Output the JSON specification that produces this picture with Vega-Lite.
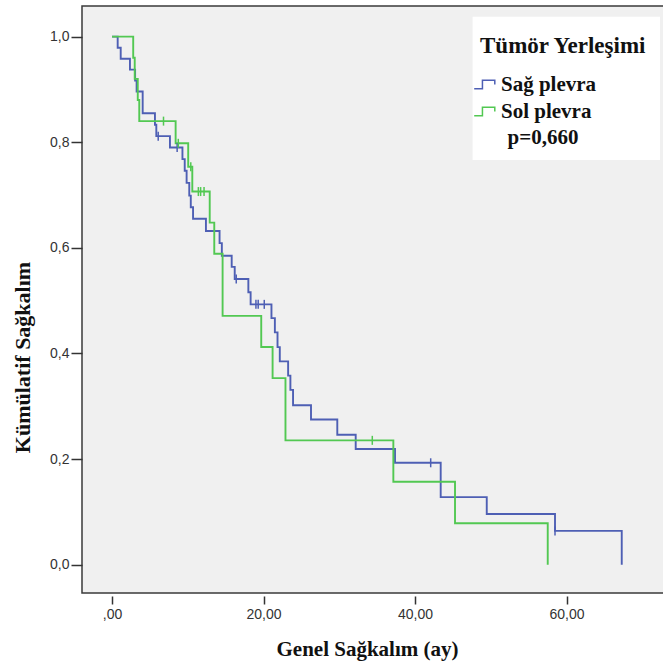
{
  "$schema": "https://vega.github.io/schema/vega-lite/v6.json",
  "width": 583,
  "height": 587,
  "autosize": {"type": "none"},
  "padding": {"left": 82, "top": 6, "right": 0, "bottom": 73},
  "background": "white",
  "config": {"view": {"fill": "#f0f0f0", "stroke": "#3a3a3a", "strokeWidth": 1.5}},
  "datasets": {
    "curves": [
      {"grp": "Sağ plevra", "t": 0, "s": 1.0},
      {"grp": "Sağ plevra", "t": 0.75, "s": 0.979},
      {"grp": "Sağ plevra", "t": 1.15, "s": 0.958},
      {"grp": "Sağ plevra", "t": 2.37, "s": 0.9375},
      {"grp": "Sağ plevra", "t": 3.05, "s": 0.917},
      {"grp": "Sağ plevra", "t": 3.25, "s": 0.896},
      {"grp": "Sağ plevra", "t": 4.05, "s": 0.855},
      {"grp": "Sağ plevra", "t": 5.67, "s": 0.833},
      {"grp": "Sağ plevra", "t": 5.85, "s": 0.8115},
      {"grp": "Sağ plevra", "t": 7.65, "s": 0.79},
      {"grp": "Sağ plevra", "t": 9.3, "s": 0.768},
      {"grp": "Sağ plevra", "t": 9.6, "s": 0.746},
      {"grp": "Sağ plevra", "t": 9.85, "s": 0.723},
      {"grp": "Sağ plevra", "t": 10.2, "s": 0.699},
      {"grp": "Sağ plevra", "t": 10.4, "s": 0.677},
      {"grp": "Sağ plevra", "t": 10.7, "s": 0.655},
      {"grp": "Sağ plevra", "t": 12.4, "s": 0.632},
      {"grp": "Sağ plevra", "t": 14.2, "s": 0.609},
      {"grp": "Sağ plevra", "t": 14.5, "s": 0.585},
      {"grp": "Sağ plevra", "t": 15.8, "s": 0.564},
      {"grp": "Sağ plevra", "t": 16.2, "s": 0.541},
      {"grp": "Sağ plevra", "t": 18.0, "s": 0.516},
      {"grp": "Sağ plevra", "t": 18.3, "s": 0.493},
      {"grp": "Sağ plevra", "t": 21.05, "s": 0.467},
      {"grp": "Sağ plevra", "t": 21.5, "s": 0.44},
      {"grp": "Sağ plevra", "t": 21.85, "s": 0.412},
      {"grp": "Sağ plevra", "t": 22.15, "s": 0.385},
      {"grp": "Sağ plevra", "t": 23.25, "s": 0.358},
      {"grp": "Sağ plevra", "t": 23.55, "s": 0.331},
      {"grp": "Sağ plevra", "t": 23.9, "s": 0.302},
      {"grp": "Sağ plevra", "t": 26.27, "s": 0.275},
      {"grp": "Sağ plevra", "t": 29.74, "s": 0.246},
      {"grp": "Sağ plevra", "t": 32.17, "s": 0.219},
      {"grp": "Sağ plevra", "t": 37.36, "s": 0.193},
      {"grp": "Sağ plevra", "t": 43.39, "s": 0.128},
      {"grp": "Sağ plevra", "t": 49.47, "s": 0.096},
      {"grp": "Sağ plevra", "t": 58.48, "s": 0.064},
      {"grp": "Sağ plevra", "t": 67.29, "s": 0.0},
      {"grp": "Sol plevra", "t": 0, "s": 1.0},
      {"grp": "Sol plevra", "t": 2.8, "s": 0.96},
      {"grp": "Sol plevra", "t": 3.0, "s": 0.92},
      {"grp": "Sol plevra", "t": 3.4, "s": 0.88},
      {"grp": "Sol plevra", "t": 3.6, "s": 0.84},
      {"grp": "Sol plevra", "t": 8.4, "s": 0.798},
      {"grp": "Sol plevra", "t": 10.06, "s": 0.7537},
      {"grp": "Sol plevra", "t": 10.6, "s": 0.7066},
      {"grp": "Sol plevra", "t": 12.9, "s": 0.6477},
      {"grp": "Sol plevra", "t": 13.5, "s": 0.5888},
      {"grp": "Sol plevra", "t": 14.6, "s": 0.4711},
      {"grp": "Sol plevra", "t": 19.7, "s": 0.4122},
      {"grp": "Sol plevra", "t": 21.2, "s": 0.3533},
      {"grp": "Sol plevra", "t": 22.9, "s": 0.2355},
      {"grp": "Sol plevra", "t": 37.14, "s": 0.157},
      {"grp": "Sol plevra", "t": 45.28, "s": 0.0785},
      {"grp": "Sol plevra", "t": 57.52, "s": 0.0}
    ],
    "censored": [
      {"grp": "Sağ plevra", "t": 6.1, "s": 0.8115},
      {"grp": "Sağ plevra", "t": 8.6, "s": 0.79},
      {"grp": "Sağ plevra", "t": 16.4, "s": 0.541},
      {"grp": "Sağ plevra", "t": 19.0, "s": 0.493},
      {"grp": "Sağ plevra", "t": 19.3, "s": 0.493},
      {"grp": "Sağ plevra", "t": 20.1, "s": 0.493},
      {"grp": "Sağ plevra", "t": 42.07, "s": 0.193},
      {"grp": "Sağ plevra", "t": 58.48, "s": 0.064},
      {"grp": "Sol plevra", "t": 6.8, "s": 0.84},
      {"grp": "Sol plevra", "t": 8.75, "s": 0.798},
      {"grp": "Sol plevra", "t": 10.4, "s": 0.7537},
      {"grp": "Sol plevra", "t": 11.4, "s": 0.7066},
      {"grp": "Sol plevra", "t": 11.7, "s": 0.7066},
      {"grp": "Sol plevra", "t": 12.15, "s": 0.7066},
      {"grp": "Sol plevra", "t": 34.36, "s": 0.2355}
    ],
    "note": [{"label": "p=0,660"}]
  },
  "layer": [
    {
      "data": {"name": "curves"},
      "mark": {"type": "line", "interpolate": "step-after", "strokeWidth": 1.9},
      "encoding": {
        "x": {
          "field": "t", "type": "quantitative",
          "scale": {"domain": [-3.96, 73.0], "nice": false, "zero": false},
          "axis": {
            "values": [0, 20, 40, 60], "domain": false, "grid": false,
            "ticks": true, "tickSize": 8, "tickWidth": 1.5, "tickColor": "#333", "offset": 3,
            "labelFont": "Liberation Sans", "labelFontSize": 14, "labelColor": "#333", "labelPadding": 3,
            "labelExpr": "datum.value == 0 ? ',00' : replace(format(datum.value, '.2f'), '.', ',')",
            "title": "Genel Sağkalım (ay)", "titleFont": "Liberation Serif", "titleFontSize": 21,
            "titleFontWeight": "bold", "titleColor": "#111", "titleX": 285, "titleY": 59,
            "titleAlign": "center", "titleBaseline": "alphabetic"
          }
        },
        "y": {
          "field": "s", "type": "quantitative",
          "scale": {"domain": [-0.0536, 1.058], "nice": false, "zero": false},
          "axis": {
            "values": [0, 0.2, 0.4, 0.6, 0.8, 1.0], "domain": false, "grid": false,
            "ticks": true, "tickSize": 11, "tickWidth": 1.5, "tickColor": "#333",
            "labelFont": "Liberation Sans", "labelFontSize": 14, "labelColor": "#333", "labelPadding": 2,
            "labelExpr": "replace(format(datum.value, '.1f'), '.', ',')",
            "title": "Kümülatif Sağkalım", "titleFont": "Liberation Serif", "titleFontSize": 22,
            "titleFontWeight": "bold", "titleColor": "#111", "titleX": -60, "titleY": 351,
            "titleAngle": -90, "titleAlign": "center", "titleBaseline": "middle"
          }
        },
        "color": {
          "field": "grp", "type": "nominal",
          "scale": {"domain": ["Sağ plevra", "Sol plevra"], "range": ["#4e5fb4", "#52c852"]},
          "legend": {
            "orient": "none", "legendX": 398, "legendY": 29, "padding": 0,
            "title": "Tümör Yerleşimi", "titleFont": "Liberation Serif", "titleFontSize": 23,
            "titleFontWeight": "bold", "titleColor": "#111", "titleLimit": 400, "titlePadding": 15,
            "labelFont": "Liberation Serif", "labelFontSize": 21, "labelFontWeight": "bold",
            "labelColor": "#111", "labelLimit": 400, "labelOffset": 5,
            "symbolType": "M-1,0.42L-0.2,0.42L-0.2,-0.42L1,-0.42L1,0", "symbolSize": 424,
            "symbolStrokeWidth": 1.5, "symbolFillColor": "transparent", "symbolOpacity": 1,
            "symbolOffset": -7, "rowPadding": 5
          }
        },
        "order": {"field": "t", "type": "quantitative"}
      }
    },
    {
      "data": {"name": "censored"},
      "mark": {"type": "point", "shape": "M0,-1L0,1", "size": 81, "strokeWidth": 1.5, "filled": false, "opacity": 1},
      "encoding": {
        "x": {"field": "t", "type": "quantitative"},
        "y": {"field": "s", "type": "quantitative"},
        "color": {"field": "grp", "type": "nominal"}
      }
    },
    {
      "data": {"name": "note"},
      "mark": {"type": "rect", "fill": "white"},
      "encoding": {
        "x": {"datum": 47.6, "type": "quantitative"},
        "x2": {"datum": 72.34},
        "y": {"datum": 1.0377, "type": "quantitative"},
        "y2": {"datum": 0.7663}
      }
    },
    {
      "data": {"name": "note"},
      "mark": {"type": "text", "font": "Liberation Serif", "fontWeight": "bold", "fontSize": 21,
               "align": "center", "baseline": "alphabetic", "color": "#111"},
      "encoding": {
        "x": {"datum": 56.9, "type": "quantitative"},
        "y": {"datum": 0.7966, "type": "quantitative"},
        "text": {"field": "label"}
      }
    }
  ]
}
